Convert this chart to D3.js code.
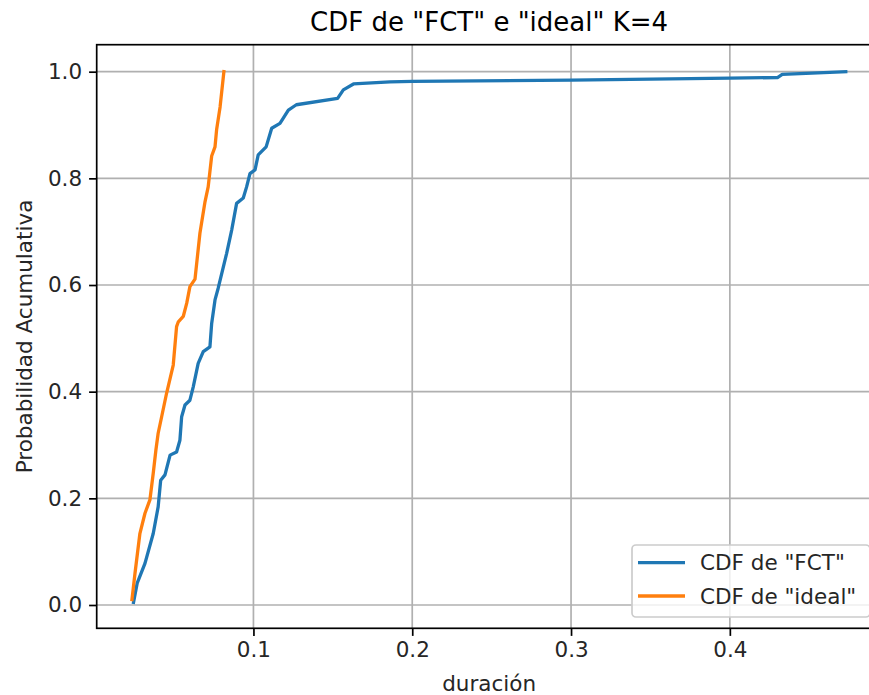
<!DOCTYPE html>
<html>
<head>
<meta charset="utf-8">
<script src="https://cdn.jsdelivr.net/npm/d3@7"></script>
<style>
  html, body { margin: 0; padding: 0; background: #fff; }
  svg { display: block; font-family: "DejaVu Sans", sans-serif; }
</style>
</head>
<body>
<svg id="chart" width="869" height="695"></svg>
<script>
// ---- data ----
const fctX = [0.0245,0.0268,0.0317,0.0369,0.0400,0.0416,0.0443,0.0475,0.0516,0.0537,0.0548,0.0569,0.0600,0.0621,0.0652,0.0684,0.0726,0.0737,0.0758,0.0778,0.0831,0.0863,0.0894,0.0936,0.0957,0.0978,0.1010,0.1030,0.1080,0.1115,0.1167,0.1220,0.1270,0.1530,0.1566,0.1630,0.1860,0.2000,0.3000,0.4000,0.4300,0.4330,0.4730];
const fctY = [0.005,0.041,0.078,0.134,0.184,0.234,0.244,0.281,0.287,0.309,0.353,0.375,0.384,0.409,0.453,0.475,0.484,0.528,0.572,0.594,0.659,0.703,0.753,0.763,0.784,0.809,0.816,0.844,0.859,0.894,0.903,0.928,0.938,0.950,0.966,0.977,0.981,0.982,0.984,0.988,0.989,0.995,1.000];
const idealX = [0.0235,0.0254,0.0285,0.0317,0.0348,0.0369,0.0386,0.0400,0.0422,0.0453,0.0495,0.0516,0.0527,0.0558,0.0580,0.0600,0.0632,0.0663,0.0695,0.0715,0.0737,0.0758,0.0768,0.0790,0.0814];
const idealY = [0.010,0.059,0.134,0.172,0.197,0.247,0.291,0.322,0.353,0.397,0.450,0.522,0.531,0.541,0.566,0.597,0.611,0.697,0.756,0.784,0.842,0.859,0.891,0.934,1.000];
const xTicks = [0.1, 0.2, 0.3, 0.4];
const yTicks = [0.0, 0.2, 0.4, 0.6, 0.8, 1.0];
const seriesNames = ['CDF de "FCT"', 'CDF de "ideal"'];
const seriesColors = ["#1f77b4", "#ff7f0e"];
const titleText = 'CDF de "FCT" e "ideal" K=4';
const xLabel = "duración";
const yLabel = "Probabilidad Acumulativa";

// ---- layout ----
const L = 96.7, R = 881.5, T = 44.7, B = 628.3;
const FS = 21.5;
const svg = d3.select("#chart");

const x = d3.scaleLinear().domain([0.0013, 0.4955]).range([L, R]);
const y = d3.scaleLinear().domain([-0.0437, 1.0506]).range([B, T]);

// grid
const grid = svg.append("g");
grid.selectAll("line.gx").data(xTicks).enter().append("line")
  .attr("x1", d => x(d)).attr("x2", d => x(d)).attr("y1", T).attr("y2", B)
  .attr("stroke", "#b0b0b0").attr("stroke-width", 1.7);
grid.selectAll("line.gy").data(yTicks).enter().append("line")
  .attr("x1", L).attr("x2", R).attr("y1", d => y(d)).attr("y2", d => y(d))
  .attr("stroke", "#b0b0b0").attr("stroke-width", 1.7);

// lines
const series = [
  fctX.map((v, i) => [v, fctY[i]]),
  idealX.map((v, i) => [v, idealY[i]])
];
const line = d3.line().x(d => x(d[0])).y(d => y(d[1]));
series.forEach((s, i) => {
  svg.append("path").datum(s).attr("d", line)
    .attr("fill", "none").attr("stroke", seriesColors[i])
    .attr("stroke-width", 3.3).attr("stroke-linejoin", "round").attr("stroke-linecap", "square");
});

// axes
const xAxis = d3.axisBottom(x).tickValues(xTicks).tickFormat(d3.format(".1f"))
  .tickSize(7.6).tickPadding(6);
const gx = svg.append("g").attr("transform", `translate(0,${B})`).call(xAxis);
const yAxis = d3.axisLeft(y).tickValues(yTicks).tickFormat(d3.format(".1f"))
  .tickSize(7.6).tickPadding(7);
const gy = svg.append("g").attr("transform", `translate(${L},0)`).call(yAxis);
[gx, gy].forEach(g => {
  g.select(".domain").remove();
  g.selectAll(".tick line").attr("stroke", "#000").attr("stroke-width", 1.7);
  g.selectAll(".tick text").attr("fill", "#262626")
    .style("font-family", '"DejaVu Sans", sans-serif').style("font-size", FS + "px");
});

// spines
svg.append("rect").attr("x", L).attr("y", T).attr("width", R - L).attr("height", B - T)
  .attr("fill", "none").attr("stroke", "#000").attr("stroke-width", 1.7);

// title and labels
svg.append("text").attr("x", (L + R) / 2).attr("y", 31).attr("text-anchor", "middle")
  .style("font-size", "26px").attr("fill", "#000").text(titleText);
svg.append("text").attr("x", (L + R) / 2).attr("y", 691).attr("text-anchor", "middle")
  .style("font-size", FS + "px").attr("fill", "#262626").text(xLabel);
svg.append("text").attr("transform", `translate(32,${(T + B) / 2}) rotate(-90)`)
  .attr("text-anchor", "middle").style("font-size", FS + "px").attr("fill", "#262626").text(yLabel);

// legend
const lg = svg.append("g");
lg.append("rect").attr("x", 632).attr("y", 545).attr("width", 238).attr("height", 72)
  .attr("rx", 4).attr("fill", "#fff").attr("fill-opacity", 0.8)
  .attr("stroke", "#cccccc").attr("stroke-width", 1.7);
seriesNames.forEach((n, i) => {
  const cy = 562.7 + i * 33.3;
  lg.append("line").attr("x1", 638).attr("x2", 685).attr("y1", cy).attr("y2", cy)
    .attr("stroke", seriesColors[i]).attr("stroke-width", 3.3);
  lg.append("text").attr("x", 700).attr("y", cy + 7.6)
    .style("font-size", FS + "px").attr("fill", "#262626").text(n);
});
</script>
</body>
</html>
